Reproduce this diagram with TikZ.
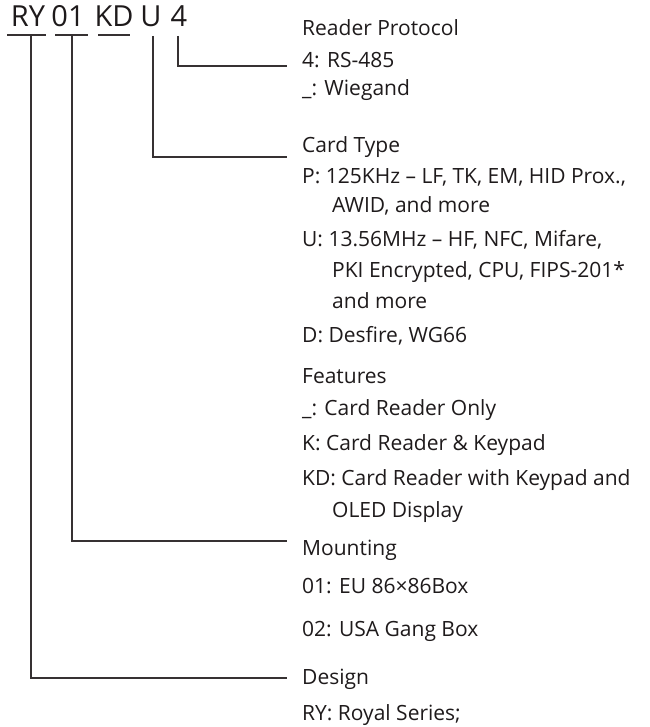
\documentclass[tikz,border=0pt]{standalone}
\usepackage{fontspec}
\setmainfont{Open Sans}
\definecolor{txt}{HTML}{1E1A1B}
\definecolor{ln}{HTML}{363132}
\begin{document}
\begin{tikzpicture}[x=1pt,y=-1pt,
  code/.style={anchor=base,inner sep=0pt,text=txt,font=\fontsize{29}{33}\selectfont},
  lbl/.style={anchor=base west,inner sep=0pt,text=txt,font=\fontsize{21}{25}\selectfont},
  conn/.style={draw=ln,line width=1.9pt},
  uline/.style={draw=ln,line width=1.9pt}]
\useasboundingbox (0,0) rectangle (649,727);
% code letters
\node[code] (ry) at (28,27) {RY};
\node[code] (n01) at (68,27) {01};
\node[code] (kd) at (114,27) {KD};
\node[code] (u) at (151,27) {U};
\node[code] (four) at (179,27) {4};
% underlines
\coordinate (ryA) at (7,35); \coordinate (ryB) at (46,35);
\coordinate (nA) at (55,35); \coordinate (nB) at (88,35);
\coordinate (kA) at (98,35); \coordinate (kB) at (130,35);
\draw[uline] (ryA) -- (ryB);
\draw[uline] (nA) -- (nB);
\draw[uline] (kA) -- (kB);
% labels
\node[lbl] (rp) at (302,36) {Reader Protocol};
\node[lbl] (rp1) at (302,68) {4: RS-485};
\node[lbl] (rp2) at (302,96) {\_: Wiegand};
\node[lbl] (ct) at (302,153) {Card Type};
\node[lbl] (ct1) at (302,184) {P: 125KHz – LF, TK, EM, HID Prox.,};
\node[lbl] (ct1b) at (332,213) {AWID, and more};
\node[lbl] (ct2) at (302,246) {U: 13.56MHz – HF, NFC, Mifare,};
\node[lbl] (ct2b) at (332,277) {PKI Encrypted, CPU, FIPS-201*};
\node[lbl] (ct2c) at (332,308) {and more};
\node[lbl] (ct3) at (302,342) {D: Desfire, WG66};
\node[lbl] (ft) at (302,383) {Features};
\node[lbl] (ft1) at (302,415) {\_: Card Reader Only};
\node[lbl] (ft2) at (302,450) {K: Card Reader \& Keypad};
\node[lbl] (ft3) at (302,485) {KD: Card Reader with Keypad and};
\node[lbl] (ft3b) at (332,517) {OLED Display};
\node[lbl] (mt) at (302,555) {Mounting};
\node[lbl] (mt1) at (302,593) {01: EU 86×86Box};
\node[lbl] (mt2) at (302,636) {02: USA Gang Box};
\node[lbl] (ds) at (302,684) {Design};
\node[lbl] (ds1) at (302,720) {RY: Royal Series;};
% connectors
\coordinate (c4a) at (178,36); \coordinate (c4b) at (287,66);
\coordinate (cua) at (153,36); \coordinate (cub) at (287,157);
\coordinate (c01a) at (72,35); \coordinate (c01b) at (287,541);
\coordinate (crya) at (31,35); \coordinate (cryb) at (287,678);
\draw[conn] (c4a) |- (c4b);
\draw[conn] (cua) |- (cub);
\draw[conn] (c01a) |- (c01b);
\draw[conn] (crya) |- (cryb);
\end{tikzpicture}
\end{document}
